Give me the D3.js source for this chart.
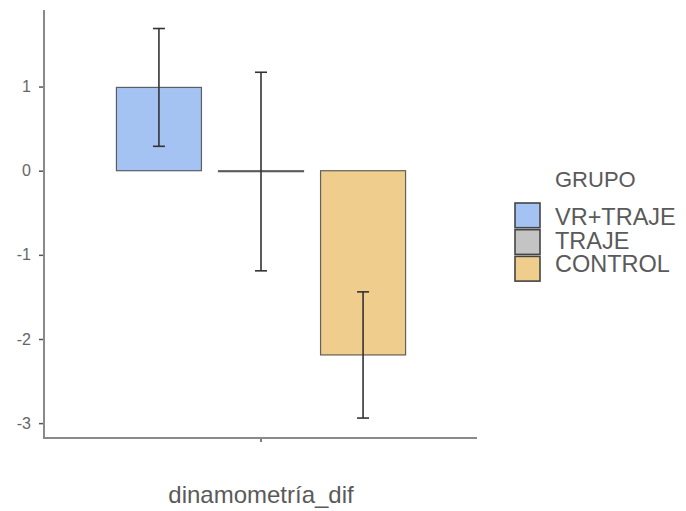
<!DOCTYPE html>
<html>
<head>
<meta charset="utf-8">
<script src="https://cdn.jsdelivr.net/npm/d3@7"></script>
<style>
  html, body { margin: 0; padding: 0; background: #fff; }
  svg { display: block; font-family: "Liberation Sans", Arial, sans-serif; }
</style>
</head>
<body>
<svg id="chart" width="686" height="511"></svg>
<script>
// Mean change in dynamometry per group, with error bar half-widths
const groups = ["VR+TRAJE", "TRAJE", "CONTROL"];
const means = [0.99, -0.01, -2.19];
const errors = [0.70, 1.18, 0.75];
const colors = ["#a4c3f2", "#c4c4c4", "#efcd8d"];
const yTicks = [1, 0, -1, -2, -3];
const variable = "dinamometría_dif";
const legendTitle = "GRUPO";

const svg = d3.select("#chart");
const m = { left: 45, right: 209, top: 10, bottom: 74 };
const W = 686, H = 511;

const y = d3.scaleLinear().domain([-3.165, 1.91]).range([H - m.bottom, m.top]);
const x0 = d3.scaleBand().domain([variable]).range([m.left, W - m.right]).paddingInner(0).paddingOuter(0.247);
const x1 = d3.scaleBand().domain(groups).range([0, x0.bandwidth()]).paddingInner(0.167);

const axisColor = "#8a8a8a";
const textColor = "#5a5a5a";

// Bars
const g = svg.append("g").attr("transform", `translate(${x0(variable)},0)`);
g.selectAll("rect.bar").data(groups).join("rect")
  .attr("class", "bar")
  .attr("x", d => x1(d))
  .attr("width", x1.bandwidth())
  .attr("y", (d, i) => y(Math.max(0, means[i])))
  .attr("height", (d, i) => Math.max(Math.abs(y(means[i]) - y(0)), 1))
  .attr("fill", (d, i) => colors[i])
  .attr("stroke", "#333")
  .attr("stroke-opacity", 0.75)
  .attr("stroke-width", 1.2);

// Error bars
const capW = 12;
const eb = g.selectAll("g.err").data(groups).join("g").attr("class", "err")
  .attr("stroke", "#333").attr("stroke-width", 1.6);
const cx = d => x1(d) + x1.bandwidth() / 2;
eb.append("line")
  .attr("x1", cx).attr("x2", cx)
  .attr("y1", (d, i) => y(means[i] + errors[i])).attr("y2", (d, i) => y(means[i] - errors[i]));
eb.append("line")
  .attr("x1", d => cx(d) - capW / 2).attr("x2", d => cx(d) + capW / 2)
  .attr("y1", (d, i) => y(means[i] + errors[i])).attr("y2", (d, i) => y(means[i] + errors[i]));
eb.append("line")
  .attr("x1", d => cx(d) - capW / 2).attr("x2", d => cx(d) + capW / 2)
  .attr("y1", (d, i) => y(means[i] - errors[i])).attr("y2", (d, i) => y(means[i] - errors[i]));

// Y axis
const yAxis = svg.append("g").attr("transform", `translate(${m.left},0)`)
  .call(d3.axisLeft(y).tickValues(yTicks).tickSize(6).tickPadding(8).tickFormat(d => String(d)));
yAxis.select(".domain").remove();
yAxis.selectAll(".tick line").attr("stroke", "#555").attr("stroke-width", 1.5);
yAxis.selectAll(".tick text").attr("fill", "#666").attr("font-size", 16);
svg.append("line").attr("x1", m.left - 1).attr("x2", m.left - 1)
  .attr("y1", m.top).attr("y2", H - m.bottom + 1)
  .attr("stroke", axisColor).attr("stroke-width", 2);

// X axis
const xAxis = svg.append("g").attr("transform", `translate(0,${H - m.bottom})`)
  .call(d3.axisBottom(x0).tickSize(5).tickFormat(""));
xAxis.select(".domain").remove();
xAxis.selectAll(".tick line").attr("stroke", "#555").attr("stroke-width", 1.5);
svg.append("line").attr("x1", m.left - 2).attr("x2", W - m.right)
  .attr("y1", H - m.bottom + 1).attr("y2", H - m.bottom + 1)
  .attr("stroke", axisColor).attr("stroke-width", 2);

svg.append("text")
  .attr("x", x0(variable) + x0.bandwidth() / 2).attr("y", 503)
  .attr("text-anchor", "middle").attr("fill", textColor).attr("font-size", 24)
  .text(variable);

// Legend
const lg = svg.append("g").attr("transform", "translate(514,202)");
lg.append("text").attr("x", 41).attr("y", -15).attr("text-anchor", "start")
  .attr("fill", textColor).attr("font-size", 22).text(legendTitle);
lg.selectAll("rect.key").data(groups).join("rect").attr("class", "key")
  .attr("x", 1).attr("y", (d, i) => 1 + i * 26.7).attr("width", 25).attr("height", 24.7)
  .attr("fill", (d, i) => colors[i]).attr("stroke", "#444").attr("stroke-width", 1.6);
lg.selectAll("text.label").data(groups).join("text").attr("class", "label")
  .attr("x", 41).attr("y", (d, i) => 23 + i * 23.5).attr("fill", textColor).attr("font-size", 23.5)
  .text(d => d);
</script>
</body>
</html>
